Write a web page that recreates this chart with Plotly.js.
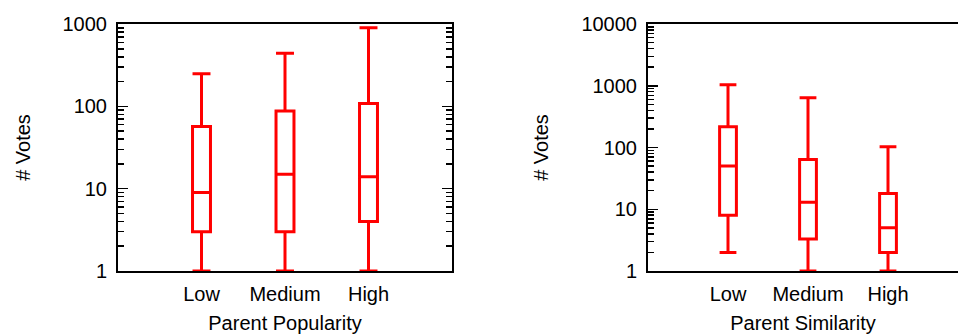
<!DOCTYPE html>
<html>
<head>
<meta charset="utf-8">
<script src="https://cdn.plot.ly/plotly-3.0.1.min.js"></script>
<style>html,body{margin:0;padding:0;background:#fff;}#chart{width:958px;height:335px;}</style>
</head>
<body>
<div id="chart"></div>
<script>
// Categories
const categories = ['Low', 'Medium', 'High'];

// Panel 1: Parent Popularity
const popLower  = [1, 1, 1];
const popQ1     = [3, 3, 4];
const popMedian = [9, 15, 14];
const popQ3     = [57, 88, 108];
const popUpper  = [248, 440, 900];

// Panel 2: Parent Similarity
const simLower  = [2, 1, 1];
const simQ1     = [8, 3.3, 2];
const simMedian = [50, 13, 5];
const simQ3     = [217, 64, 18];
const simUpper  = [1040, 640, 103];

// Tick labels
const leftTickVals  = [1, 10, 100, 1000];
const leftTickText  = ['1', '10', '100', '1000'];
const rightTickVals = [1, 10, 100, 1000, 10000];
const rightTickText = ['1', '10', '100', '1000', '10000'];

function minorTicks(maxDecade) {
  const out = [];
  for (let d = 0; d < maxDecade; d++) {
    for (let k = 2; k <= 9; k++) out.push(k * Math.pow(10, d));
  }
  return out;
}

const FONT = 'Liberation Sans, Arial, Helvetica, sans-serif';
const RED = '#ff0000';

const boxStyle = {
  type: 'box',
  boxpoints: false,
  line: {color: RED, width: 3},
  fillcolor: 'rgba(255,255,255,0)',
  whiskerwidth: 1,
  width: 0.215,
  hoverinfo: 'skip',
  showlegend: false
};

const trace1 = Object.assign({}, boxStyle, {
  x: categories, q1: popQ1, median: popMedian, q3: popQ3,
  lowerfence: popLower, upperfence: popUpper,
  xaxis: 'x', yaxis: 'y'
});
const trace2 = Object.assign({}, boxStyle, {
  x: categories, q1: simQ1, median: simMedian, q3: simQ3,
  lowerfence: simLower, upperfence: simUpper,
  xaxis: 'x2', yaxis: 'y2', width: 0.21
});

const xCommon = {
  type: 'category',
  showgrid: false, zeroline: false,
  showline: true, linecolor: '#000', linewidth: 2,
  ticks: '', ticklabelstandoff: 4,
  tickfont: {family: FONT, size: 20, color: '#000'},
  title: {font: {family: FONT, size: 20, color: '#000'}, standoff: 12},
  fixedrange: true
};
const yCommon = {
  type: 'log',
  showgrid: false, zeroline: false,
  showline: true, linecolor: '#000', linewidth: 2,
  ticks: 'inside', ticklen: 10, tickwidth: 1.5, tickcolor: '#000',
  tickmode: 'array',
  tickfont: {family: FONT, size: 20, color: '#000'},
  ticklabelstandoff: 5,
  title: {text: '# Votes', font: {family: FONT, size: 20, color: '#000'}, standoff: 27},
  fixedrange: true
};

const layout = {
  width: 958, height: 335,
  margin: {l: 0, r: 0, t: 24, b: 64},
  paper_bgcolor: '#fff', plot_bgcolor: '#fff',
  showlegend: false,
  xaxis: Object.assign({}, xCommon, {
    domain: [118/958, 452/958], range: [-1, 3], mirror: true, anchor: 'y',
    title: Object.assign({}, xCommon.title, {text: 'Parent Popularity'})
  }),
  yaxis: Object.assign({}, yCommon, {
    domain: [0, 1], range: [0, 3], anchor: 'x', mirror: 'allticks',
    tickvals: leftTickVals, ticktext: leftTickText,
    minor: {tickmode: 'array', tickvals: minorTicks(3), ticks: 'inside', ticklen: 6, tickwidth: 1.5, tickcolor: '#000', showgrid: false}
  }),
  xaxis2: Object.assign({}, xCommon, {
    domain: [648/958, 1], range: [-1, 2.875], mirror: true, anchor: 'y2',
    title: Object.assign({}, xCommon.title, {text: 'Parent Similarity'})
  }),
  yaxis2: Object.assign({}, yCommon, {
    domain: [0, 1], range: [0, 4], anchor: 'x2', mirror: false,
    tickvals: rightTickVals, ticktext: rightTickText,
    minor: {tickmode: 'array', tickvals: minorTicks(4), ticks: 'inside', ticklen: 6, tickwidth: 1.5, tickcolor: '#000', showgrid: false}
  })
};

Plotly.newPlot('chart', [trace1, trace2], layout, {displayModeBar: false, staticPlot: true});
</script>
</body>
</html>
